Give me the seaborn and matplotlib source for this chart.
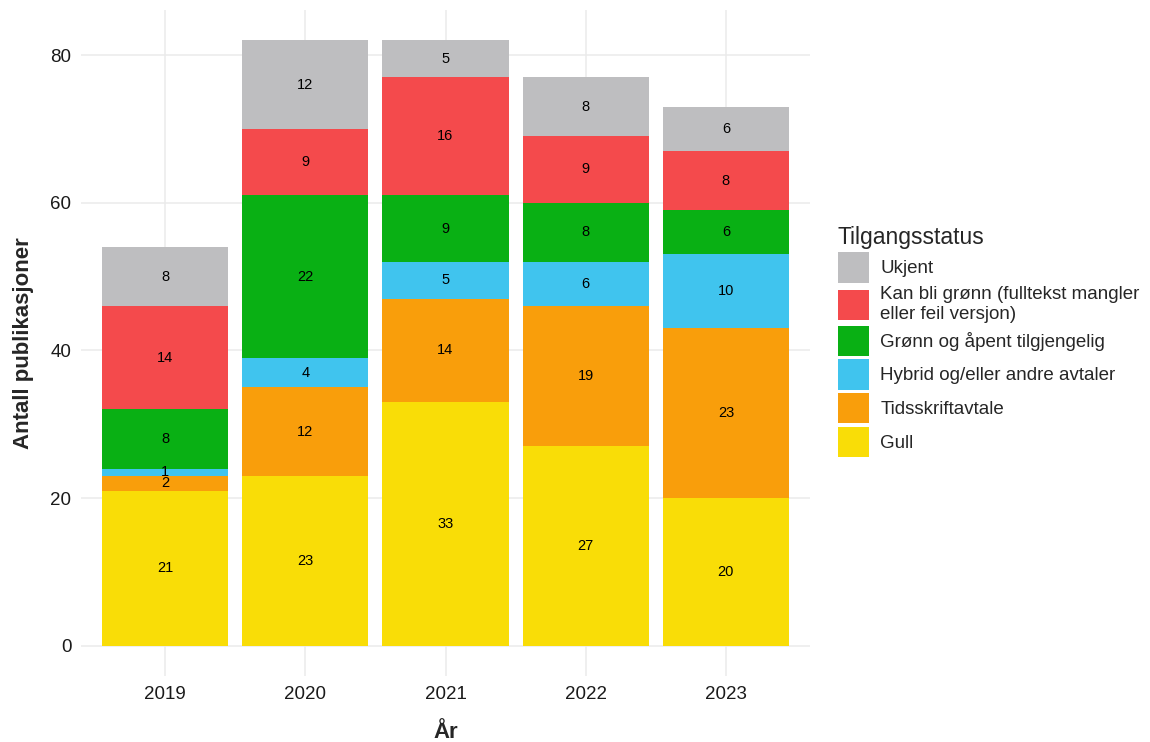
import numpy as np
import pandas as pd
import matplotlib
matplotlib.use("Agg")
import matplotlib.pyplot as plt
from matplotlib.patches import Patch
import seaborn as sns

sns.set_theme(style="white")
plt.rcParams["font.family"] = ["Liberation Sans", "DejaVu Sans"]

### Data
years = ["2019", "2020", "2021", "2022", "2023"]
# stacking order bottom -> top
categories = ["Gull", "Tidsskriftavtale", "Hybrid og/eller andre avtaler",
              "Grønn og åpent tilgjengelig",
              "Kan bli grønn (fulltekst mangler\neller feil versjon)", "Ukjent"]
gull = [21, 23, 33, 27, 20]
tidsskrift = [2, 12, 14, 19, 23]
hybrid = [1, 4, 5, 6, 10]
gronn = [8, 22, 9, 8, 6]
kan_bli = [14, 9, 16, 9, 8]
ukjent = [8, 12, 5, 8, 6]
colors = ["#F9DD07", "#F99E0B", "#40C4EE", "#09B014", "#F44A4C", "#BEBEC0"]

counts = pd.DataFrame({"Ar": years, categories[0]: gull, categories[1]: tidsskrift,
                       categories[2]: hybrid, categories[3]: gronn,
                       categories[4]: kan_bli, categories[5]: ukjent})
cum = counts[categories].cumsum(axis=1)

### Plot
fig = plt.figure(figsize=(11.5, 7.42), dpi=100)
ax = fig.add_axes([81 / 1150, 1 - 676 / 742, (810 - 81) / 1150, (676 - 10) / 742])

# draw cumulative bars from the top down so each layer covers the next
for cat, col in reversed(list(zip(categories, colors))):
    sns.barplot(x=counts["Ar"], y=cum[cat], color=col, saturation=1,
                width=0.9, errorbar=None, order=years, ax=ax, zorder=2,
                linewidth=0, edgecolor="none")

# segment labels
for i, yr in enumerate(years):
    prev = 0
    for cat in categories:
        val = counts.loc[i, cat]
        top = cum.loc[i, cat]
        ax.text(i, (prev + top) / 2, str(val), ha="center", va="center",
                fontsize=10.5, color="black", zorder=3)
        prev = top

ax.set_xlim(-0.6, 4.6)
ax.set_ylim(-4.1, 86.1)
ax.set_yticks([0, 20, 40, 60, 80])
ax.grid(True, color="#EBEBEB", linewidth=1.1, zorder=0)
ax.set_axisbelow(True)
for s in ax.spines.values():
    s.set_visible(False)
ax.tick_params(axis="both", length=0, labelsize=13.5, colors="#1A1A1A")
ax.tick_params(axis="y", pad=7)
ax.tick_params(axis="x", pad=7)
ax.set_xlabel("År", fontsize=16, fontweight="bold", labelpad=14)
ax.set_ylabel("Antall publikasjoner", fontsize=16, fontweight="bold", labelpad=12)

handles = [Patch(facecolor=c, edgecolor="none", label=l)
           for c, l in zip(colors[::-1], categories[::-1])]
fig.legend(handles=handles, title="Tilgangsstatus", loc="upper left",
           bbox_to_anchor=(838 / 1150, 1 - 226 / 742), frameon=False,
           fontsize=13.5, title_fontsize=16.5, alignment="left",
           handlelength=1.65, handleheight=2.1, handletextpad=0.6,
           labelspacing=0.18, borderpad=0, borderaxespad=0)

fig.savefig("out.png", dpi=100, facecolor="white")
